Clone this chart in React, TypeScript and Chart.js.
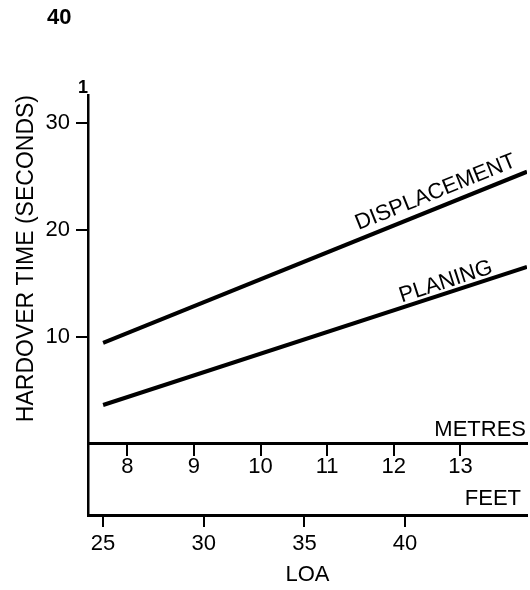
import React, { useEffect, useRef } from "react";
import { Chart, registerables } from "chart.js";

Chart.register(...registerables);

// ---- data ----
const LOA_FEET = [25, 46.06];
const DISPLACEMENT = [9.4, 25.4];
const PLANING = [3.6, 16.5];
const SERIES_NAMES = ["DISPLACEMENT", "PLANING"];
const FEET_TICKS = [25, 30, 35, 40];
const METRE_TICKS = [8, 9, 10, 11, 12, 13];
const Y_TICKS = [10, 20, 30];
const FEET_RANGE = [24.25, 46.06];
const METRE_RANGE = [7.41, 14.0];
const Y_RANGE = [-6.68, 32.57];
const Y_TITLE = "HARDOVER TIME (SECONDS)";
const X_TITLE = "LOA";
const METRE_LABEL = "METRES";
const FEET_LABEL = "FEET";
const PAGE_NUMBER = "40";
const TOP_MARK = "1";

const FONT = '"Liberation Sans", Arial, Helvetica, sans-serif';

const annotations = {
  id: "annotations",
  afterDraw(chart: any) {
    const ctx = chart.ctx;
    const xs = chart.scales.x;
    const ys = chart.scales.y;
    const area = chart.chartArea;
    ctx.save();
    ctx.fillStyle = "#000";

    // page number and top mark
    ctx.font = `bold 22px ${FONT}`;
    ctx.textAlign = "left";
    ctx.textBaseline = "alphabetic";
    ctx.fillText(PAGE_NUMBER, 47, 24);
    ctx.font = `bold 18px ${FONT}`;
    ctx.textAlign = "center";
    ctx.fillText(TOP_MARK, 83, 93);

    // axis band labels
    ctx.font = `22px ${FONT}`;
    ctx.textAlign = "right";
    const y0 = ys.getPixelForValue(0);
    ctx.fillText(METRE_LABEL, area.right - 1, y0 - 8);
    ctx.fillText(FEET_LABEL, area.right - 6, area.bottom - 10);

    // line labels, rotated along each line
    const anchors = [
      { feet: 41.8, offset: 15 },
      { feet: 42.2, offset: 11 },
    ];
    SERIES_NAMES.forEach((name, i) => {
      const meta = chart.getDatasetMeta(i);
      const p0 = meta.data[0];
      const p1 = meta.data[meta.data.length - 1];
      const a = Math.atan2(p1.y - p0.y, p1.x - p0.x);
      const fx = xs.getPixelForValue(anchors[i].feet);
      const t = (fx - p0.x) / (p1.x - p0.x);
      const fy = p0.y + t * (p1.y - p0.y);
      const d = anchors[i].offset;
      const cx = fx + d * Math.sin(a);
      const cy = fy - d * Math.cos(a);
      ctx.save();
      ctx.translate(cx, cy);
      ctx.rotate(a);
      ctx.textAlign = "center";
      ctx.textBaseline = "middle";
      ctx.fillText(name, 0, 0);
      ctx.restore();
    });
    ctx.restore();
  },
};

export default function App() {
  const ref = useRef<HTMLCanvasElement | null>(null);

  useEffect(() => {
    if (!ref.current) return;
    const tickFont = { family: FONT, size: 22, lineHeight: 1 };
    const chart = new Chart(ref.current, {
      type: "line",
      data: {
        datasets: [
          {
            label: SERIES_NAMES[0],
            data: LOA_FEET.map((x, i) => ({ x, y: DISPLACEMENT[i] })),
            borderColor: "#000",
            borderWidth: 4,
            pointRadius: 0,
            fill: false,
          },
          {
            label: SERIES_NAMES[1],
            data: LOA_FEET.map((x, i) => ({ x, y: PLANING[i] })),
            borderColor: "#000",
            borderWidth: 4,
            pointRadius: 0,
            fill: false,
          },
        ],
      },
      options: {
        animation: false,
        responsive: false,
        devicePixelRatio: 1,
        layout: { padding: { top: 95, right: 3, left: 0, bottom: 0 } },
        plugins: {
          legend: { display: false },
          tooltip: { enabled: false },
          title: { display: false },
        },
        scales: {
          x: {
            type: "linear",
            position: "bottom",
            min: FEET_RANGE[0],
            max: FEET_RANGE[1],
            afterBuildTicks: (s: any) => {
              s.ticks = FEET_TICKS.map((v) => ({ value: v }));
            },
            afterFit: (s: any) => {
              s.height = 75;
            },
            ticks: { color: "#000", font: tickFont, padding: 5.5, maxRotation: 0 },
            grid: {
              drawOnChartArea: false,
              drawTicks: true,
              tickLength: 12,
              color: "#000",
              lineWidth: 2,
            },
            border: { display: true, color: "#000", width: 3 },
            title: {
              display: true,
              text: X_TITLE,
              color: "#000",
              font: { family: FONT, size: 22 },
              padding: { top: 0, bottom: 2 },
            },
          },
          xm: {
            type: "linear",
            position: { y: 0 },
            axis: "x",
            min: METRE_RANGE[0],
            max: METRE_RANGE[1],
            afterBuildTicks: (s: any) => {
              s.ticks = METRE_TICKS.map((v) => ({ value: v }));
            },
            ticks: { color: "#000", font: tickFont, padding: 1, maxRotation: 0 },
            grid: {
              drawOnChartArea: false,
              drawTicks: true,
              tickLength: 11,
              color: "#000",
              lineWidth: 2,
            },
            border: { display: true, color: "#000", width: 3 },
          },
          y: {
            type: "linear",
            position: "left",
            min: Y_RANGE[0],
            max: Y_RANGE[1],
            afterBuildTicks: (s: any) => {
              s.ticks = Y_TICKS.map((v) => ({ value: v }));
            },
            afterFit: (s: any) => {
              s.width = 88;
            },
            ticks: { color: "#000", font: tickFont, padding: 6 },
            grid: {
              drawOnChartArea: false,
              drawTicks: true,
              tickLength: 12,
              color: "#000",
              lineWidth: 2,
            },
            border: { display: true, color: "#000", width: 2.5 },
            title: {
              display: true,
              text: Y_TITLE,
              align: "end",
              color: "#000",
              font: { family: FONT, size: 23 },
              padding: { top: 13, bottom: 0 },
            },
          },
        },
      } as any,
      plugins: [annotations],
    });
    return () => chart.destroy();
  }, []);

  return (
    <canvas
      ref={ref}
      width={530}
      height={590}
      style={{ position: "absolute", left: 0, top: 0, background: "#fff" }}
    />
  );
}
